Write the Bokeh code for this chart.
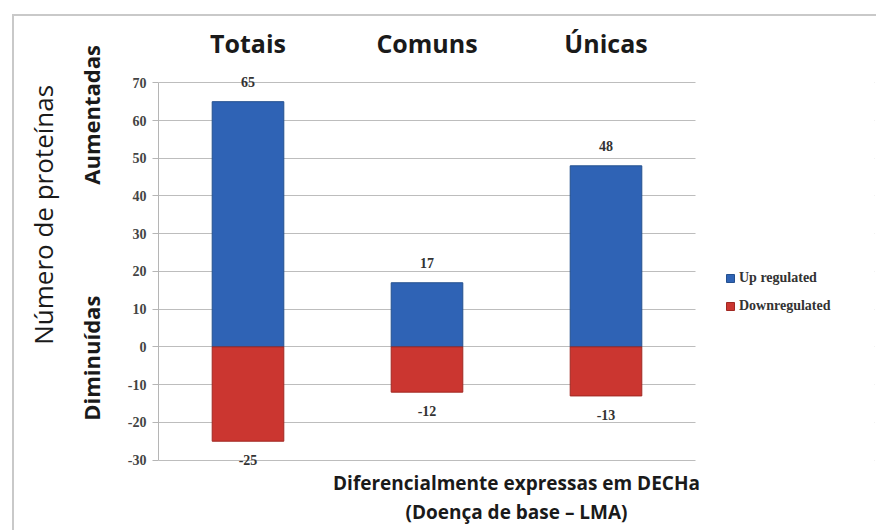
from bokeh.plotting import figure
from bokeh.models import (FactorRange, Range1d, Legend, LegendItem, BoxAnnotation,
                          ColumnDataSource, FixedTicker, LinearAxis, CategoricalAxis)
from bokeh.embed import file_html
from bokeh.resources import INLINE
from bokeh.core.properties import value

categories = ["Totais", "Comuns", "Únicas"]
up_regulated = [65, 17, 48]
down_regulated = [-25, -12, -13]
y_ticks = [-30, -20, -10, 0, 10, 20, 30, 40, 50, 60, 70]
series_names = ["Up regulated", "Downregulated"]
y_title = "Número de proteínas"
side_titles = ["Aumentadas", "Diminuídas"]
x_title = ["Diferencialmente expressas em DECHa", "(Doença de base – LMA)"]

BLUE = "#2F63B5"
RED = "#CB3630"
INK = "#1a1a1a"

src = ColumnDataSource(dict(
    cat=categories,
    up=up_regulated,
    down=down_regulated,
    up_txt=[str(v) for v in up_regulated],
    down_txt=[str(v) for v in down_regulated],
))

# one extra, unnamed slot on the x range holds the legend
LEGEND_SLOT = " "
factors = categories + [LEGEND_SLOT]

p = figure(x_range=FactorRange(*factors, range_padding=0),
           y_range=Range1d(-32.5, 73),
           width=864, height=516,
           output_backend="svg", toolbar_location=None,
           x_axis_location="above",
           min_border_left=144, min_border_right=4,
           min_border_top=55, min_border_bottom=63)
p.margin = (14, 0, 0, 12)
p.styles = {"border-left": "2px solid #c9c9c9", "border-top": "2px solid #c9c9c9"}

p.outline_line_color = None
p.xgrid.grid_line_color = None
p.ygrid.ticker = FixedTicker(ticks=y_ticks)
p.ygrid.grid_line_color = "#bdbdbd"
p.ygrid.grid_line_width = 1

# category names above the bars
xa = p.xaxis[0]
xa.axis_line_color = None
xa.major_tick_line_color = None
xa.minor_tick_line_color = None
xa.major_label_text_font = "Open Sans"
xa.major_label_text_font_style = "bold"
xa.major_label_text_font_size = "25px"
xa.major_label_text_color = INK
xa.major_label_standoff = 6

# value axis
ya = p.yaxis[0]
ya.ticker = FixedTicker(ticks=y_ticks)
ya.bounds = (y_ticks[0], y_ticks[-1])
ya.major_label_overrides = {t: str(t) for t in y_ticks}
ya.axis_line_color = "#b5b5b5"
ya.major_tick_line_color = "#b5b5b5"
ya.major_tick_out = 6
ya.major_tick_in = 0
ya.minor_tick_line_color = None
ya.major_label_text_font = "Liberation Serif"
ya.major_label_text_font_style = "bold"
ya.major_label_text_font_size = "14px"
ya.major_label_text_color = "#444444"
ya.major_label_standoff = 6


def plain(ax):
    ax.axis_line_color = None
    ax.major_tick_line_color = None
    ax.minor_tick_line_color = None
    ax.major_tick_out = 0
    ax.major_tick_in = 0
    return ax


def text_axis(ticks, labels, size, style, standoff):
    ax = plain(LinearAxis(ticker=FixedTicker(ticks=ticks),
                          major_label_overrides=dict(zip(ticks, labels))))
    ax.major_label_text_font = "Open Sans"
    ax.major_label_text_font_style = style
    ax.major_label_text_font_size = size
    ax.major_label_text_color = INK
    ax.major_label_standoff = standoff
    ax.major_label_orientation = "vertical"
    return ax


# "Aumentadas" / "Diminuídas" and the overall y title
p.add_layout(text_axis([61.5, -3.0], side_titles, "22px", "bold", 18), "left")
p.add_layout(text_axis([35], [y_title], "26px", "normal", 12), "left")

# x title, two lines below the plot
for i, txt in enumerate(x_title):
    ax = plain(CategoricalAxis())
    ax.major_label_overrides = {f: "" for f in factors}
    ax.major_label_text_font_size = "1px"
    ax.major_label_text_color = None
    ax.major_label_text_alpha = 0
    ax.major_label_standoff = 0
    ax.axis_label = txt
    ax.axis_label_text_font = "Open Sans"
    ax.axis_label_text_font_style = "bold"
    ax.axis_label_text_font_size = "19px"
    ax.axis_label_text_color = INK
    ax.axis_label_standoff = 0
    p.add_layout(ax, "below")

r_up = p.vbar(x="cat", top="up", bottom=0, width=0.4, source=src,
              fill_color=BLUE, line_color="#24508f", line_width=1)
r_down = p.vbar(x="cat", top=0, bottom="down", width=0.4, source=src,
                fill_color=RED, line_color="#a02822", line_width=1)

p.text(x="cat", y="up", text="up_txt", source=src, y_offset=-20,
       text_align="center", text_baseline="middle",
       text_font=value("Liberation Serif"), text_font_style="bold",
       text_font_size="14px", text_color="#333333")
p.text(x="cat", y="down", text="down_txt", source=src, y_offset=19,
       text_align="center", text_baseline="middle",
       text_font=value("Liberation Serif"), text_font_style="bold",
       text_font_size="14px", text_color="#333333")

# blank out the grid in the legend slot (gridlines stop after the last category)
p.add_layout(BoxAnnotation(left=len(categories), fill_color="white",
                           fill_alpha=1.0, line_color=None))

legend = Legend(items=[LegendItem(label=series_names[0], renderers=[r_up]),
                       LegendItem(label=series_names[1], renderers=[r_down])],
                location=(567, 153), orientation="vertical")
legend.label_text_font = "Liberation Serif"
legend.label_text_font_style = "bold"
legend.label_text_font_size = "14px"
legend.label_text_color = "#333333"
legend.glyph_width = 10
legend.glyph_height = 10
legend.label_standoff = 4
legend.label_height = 20
legend.spacing = 8
legend.padding = 0
legend.margin = 0
legend.border_line_color = None
legend.background_fill_alpha = 0
p.add_layout(legend, "center")

open("out.html", "w").write(file_html(p, INLINE))
